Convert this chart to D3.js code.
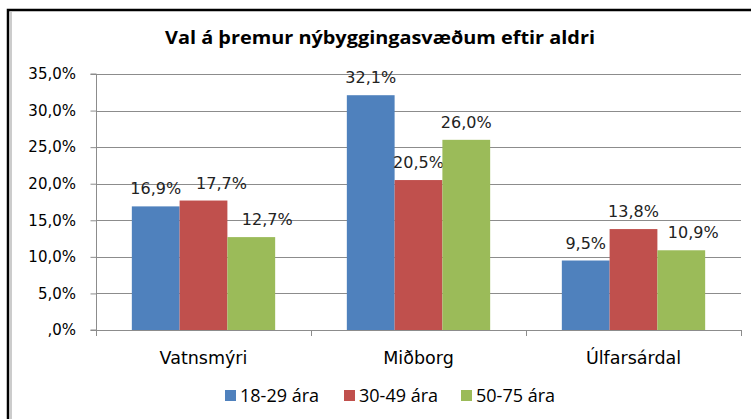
<!DOCTYPE html>
<html><head><meta charset="utf-8">
<script src="https://cdn.jsdelivr.net/npm/d3@7"></script>
<style>body{margin:0;background:#fff}svg{display:block}</style>
</head><body>
<svg id="c" width="751" height="419"></svg>
<script>
const title = "Val á þremur nýbyggingasvæðum eftir  aldri";
const categories = ["Vatnsmýri", "Miðborg", "Úlfarsárdal"];
const seriesNames = ["18-29 ára", "30-49 ára", "50-75 ára"];
const s1829 = [16.9, 32.1, 9.5];
const s3049 = [17.7, 20.5, 13.8];
const s5075 = [12.7, 26.0, 10.9];
const yTicks = [0, 5, 10, 15, 20, 25, 30, 35];
const colors = ["#4F81BD", "#C0504D", "#9BBB59"];
const seriesValues = [s1829, s3049, s5075];

// layout: horizontal nudges of data labels (per series, per category), in px
const labelNudge = [[0, 0, 0], [18, 0, 0], [16, 0, 12]];

const svg = d3.select("#c");
const fmt = v => (v === 0 ? ",0%" : d3.format(".1f")(v).replace(".", ",") + "%");
const fmtLbl = v => d3.format(".1f")(v).replace(".", ",") + "%";

// frame
svg.append("rect").attr("x", 8).attr("y", 10).attr("width", 800).attr("height", 500)
  .attr("fill", "none").attr("stroke", "#000").attr("stroke-width", 2.5);
svg.append("line").attr("x1", 11).attr("x2", 11).attr("y1", 12).attr("y2", 419)
  .attr("stroke", "#999").attr("stroke-width", 1);

const L = 96, R = 741, T = 74, B = 330;
const x0 = d3.scaleBand().domain(categories).range([L, R]).paddingInner(0).paddingOuter(0);
const bw = x0.bandwidth() / 4.5;
const y = d3.scaleLinear().domain([0, 35]).range([B, T]);

// gridlines
svg.append("g").selectAll("line").data(yTicks.filter(d => d > 0)).join("line")
  .attr("x1", L).attr("x2", R).attr("y1", d => Math.round(y(d)) + 0.5).attr("y2", d => Math.round(y(d)) + 0.5)
  .attr("stroke", "#8c8c8c").attr("stroke-width", 1);

// y axis
const ya = svg.append("g").attr("transform", `translate(${L + 0.5},0)`)
  .call(d3.axisLeft(y).tickValues(yTicks).tickSize(6).tickFormat(fmt));
ya.select(".domain").attr("stroke", "#8c8c8c").attr("d", `M-6,${T}H0V${B}H-6`);
ya.selectAll(".tick line").attr("stroke", "#8c8c8c");
ya.selectAll(".tick text").attr("font-family", "DejaVu Sans").attr("font-size", 15)
  .attr("fill", "#000").attr("x", -20.5);

// bars
seriesValues.forEach((vals, si) => {
  svg.append("g").selectAll("rect").data(vals).join("rect")
    .attr("x", (d, i) => x0(categories[i]) + 0.75 * bw + si * bw)
    .attr("width", bw)
    .attr("y", d => y(d))
    .attr("height", d => B - y(d))
    .attr("fill", colors[si]);
  svg.append("g").selectAll("text").data(vals).join("text")
    .attr("x", (d, i) => x0(categories[i]) + 0.75 * bw + si * bw + bw / 2 + labelNudge[si][i])
    .attr("y", d => y(d) - 12)
    .attr("text-anchor", "middle")
    .attr("font-family", "DejaVu Sans").attr("font-size", 16)
    .attr("fill", "#222")
    .text(fmtLbl);
});

// x axis
const xa = svg.append("g").attr("transform", `translate(0,${B + 0.5})`)
  .call(d3.axisBottom(x0).tickSize(0));
xa.select(".domain").attr("stroke", "#8c8c8c").attr("d", `M${L},0H${R}`);
xa.selectAll(".tick text").attr("font-family", "DejaVu Sans").attr("font-size", 17.5)
  .attr("fill", "#000").attr("y", 33).attr("dy", null);
svg.append("g").selectAll("line").data([...categories.map(c => x0(c)), R]).join("line")
  .attr("x1", d => Math.round(d) + 0.5).attr("x2", d => Math.round(d) + 0.5)
  .attr("y1", B).attr("y2", B + 6).attr("stroke", "#8c8c8c");

// title
svg.append("text").attr("x", 380).attr("y", 44).attr("text-anchor", "middle")
  .attr("font-family", "Open Sans").attr("font-weight", "bold").attr("font-size", 17)
  .attr("textLength", 430).attr("lengthAdjust", "spacingAndGlyphs")
  .attr("fill", "#000").text(title);

// legend
const legX = [225, 344, 461];
const lg = svg.append("g").selectAll("g").data(seriesNames).join("g")
  .attr("transform", (d, i) => `translate(${legX[i]},390)`);
lg.append("rect").attr("width", 11).attr("height", 11).attr("fill", (d, i) => colors[i]);
lg.append("text").attr("x", 15).attr("y", 12).attr("font-family", "Open Sans").attr("font-size", 18)
  .attr("fill", "#000").text(d => d);
</script>
</body></html>
